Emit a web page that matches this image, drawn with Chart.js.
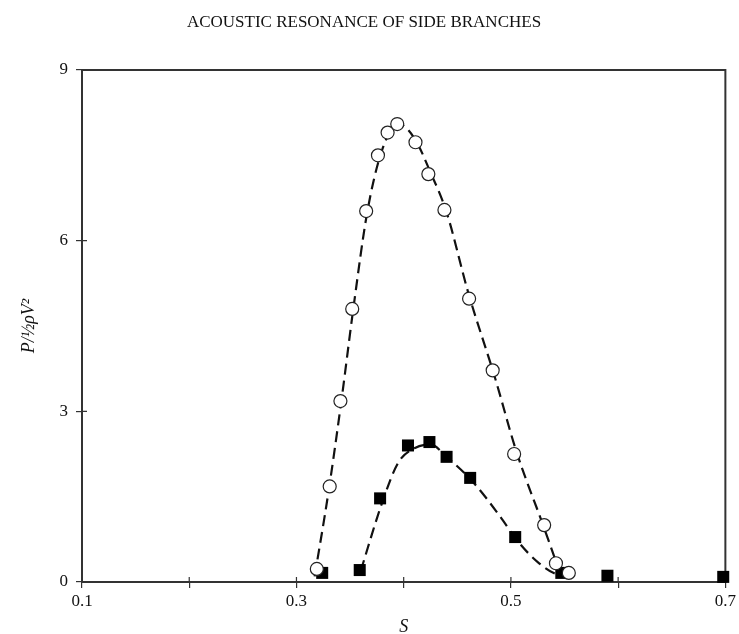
<!DOCTYPE html>
<html>
<head>
<meta charset="utf-8">
<script src="https://cdn.jsdelivr.net/npm/chart.js@4/dist/chart.umd.min.js"></script>
<style>
  html, body { margin: 0; padding: 0; background: #fff; }
  #wrap { width: 739px; height: 634px; }
</style>
</head>
<body>
<div id="wrap"><canvas id="chart" width="739" height="634"></canvas></div>
<script>
// open circles
var circleS = [0.319, 0.331, 0.341, 0.352, 0.365, 0.376, 0.385, 0.394, 0.411, 0.423, 0.438, 0.461, 0.483, 0.503, 0.531, 0.542, 0.554];
var circleP = [0.23, 1.68, 3.18, 4.8, 6.52, 7.5, 7.9, 8.05, 7.73, 7.17, 6.54, 4.98, 3.72, 2.25, 1.0, 0.33, 0.16];

// filled squares
var squareS = [0.324, 0.359, 0.378, 0.404, 0.424, 0.440, 0.462, 0.504, 0.547, 0.590, 0.698];
var squareP = [0.16, 0.21, 1.47, 2.4, 2.46, 2.2, 1.83, 0.79, 0.16, 0.11, 0.09];

// dashed fit curves
var fitCircleS = [0.317, 0.330, 0.342, 0.353, 0.366, 0.380, 0.395, 0.410, 0.425, 0.440, 0.460, 0.485, 0.505, 0.530, 0.546];
var fitCircleP = [0.1, 1.6, 3.2, 4.8, 6.5, 7.6, 8.05, 7.8, 7.2, 6.5, 5.1, 3.6, 2.3, 1.0, 0.15];
var fitSquareS = [0.360, 0.380, 0.395, 0.410, 0.425, 0.440, 0.465, 0.490, 0.505, 0.525, 0.545, 0.556];
var fitSquareP = [0.2, 1.4, 2.1, 2.35, 2.42, 2.2, 1.75, 1.15, 0.75, 0.35, 0.12, 0.1];

var xTicks = [0.1, 0.3, 0.5, 0.7];
var yTicks = [0, 3, 6, 9];

function pts(xs, ys) {
    return xs.map(function (x, i) { return { x: x, y: ys[i] }; });
}

var serif = '"Liberation Serif", "DejaVu Serif", serif';

// box round the plot and ticks that cross the axes
var frame = {
    id: 'frame',
    beforeDatasetsDraw: function (chart) {
        var ctx = chart.ctx, a = chart.chartArea;
        var xs = chart.scales.x, ys = chart.scales.y;
        ctx.save();
        ctx.strokeStyle = '#333';
        ctx.lineWidth = 2;
        ctx.strokeRect(a.left, a.top, a.right - a.left, a.bottom - a.top);
        ctx.lineWidth = 1.2;
        ctx.beginPath();
        xs.ticks.forEach(function (t) {
            var px = xs.getPixelForValue(t.value);
            ctx.moveTo(px, a.bottom - 5);
            ctx.lineTo(px, a.bottom);
        });
        ys.ticks.forEach(function (t) {
            var py = ys.getPixelForValue(t.value);
            ctx.moveTo(a.left, py);
            ctx.lineTo(a.left + 5, py);
        });
        ctx.stroke();
        ctx.restore();
    }
};

var dashed = {
    showLine: true,
    pointRadius: 0,
    borderColor: '#111',
    borderWidth: 2.2,
    borderDash: [11, 6],
    cubicInterpolationMode: 'monotone'
};

var config = {
    type: 'scatter',
    data: {
        datasets: [{
            data: pts(circleS, circleP),
            pointStyle: 'circle',
            pointRadius: 6.5,
            pointBackgroundColor: '#fff',
            pointBorderColor: '#222',
            pointBorderWidth: 1.2,
            clip: false
        }, {
            data: pts(squareS, squareP),
            pointStyle: 'rect',
            pointRadius: 8.5,
            pointBackgroundColor: '#000',
            pointBorderColor: '#000',
            pointBorderWidth: 0,
            clip: false
        }, Object.assign({ data: pts(fitCircleS, fitCircleP) }, dashed),
           Object.assign({ data: pts(fitSquareS, fitSquareP) }, dashed)]
    },
    options: {
        responsive: false,
        animation: false,
        layout: { padding: { right: 11, left: 0, bottom: 0, top: 0 } },
        plugins: {
            legend: { display: false },
            tooltip: { enabled: false },
            title: {
                display: true,
                text: 'ACOUSTIC RESONANCE OF SIDE BRANCHES',
                color: '#111',
                font: { family: serif, size: 17, weight: 'normal', lineHeight: 1.2 },
                padding: { top: 12, bottom: 37.6 }
            }
        },
        scales: {
            x: {
                type: 'linear',
                min: 0.1,
                max: 0.7,
                afterFit: function (s) { s.height = 52; },
                border: { display: true, color: '#333', width: 2 },
                grid: { drawOnChartArea: false, tickLength: 6, color: '#333', lineWidth: 1.2 },
                ticks: {
                    stepSize: 0.1,
                    padding: 3,
                    color: '#111',
                    font: { family: serif, size: 17 },
                    callback: function (v) {
                        var r = Math.round(v * 10) / 10;
                        return xTicks.indexOf(r) >= 0 ? r.toFixed(1) : '';
                    }
                },
                title: {
                    display: true,
                    text: 'S',
                    color: '#111',
                    font: { family: serif, size: 18, style: 'italic', lineHeight: 0.7 },
                    padding: { top: 6, bottom: 0 }
                }
            },
            y: {
                min: 0,
                max: 9,
                afterFit: function (s) { s.width = 82; },
                afterBuildTicks: function (s) {
                    s.ticks = yTicks.map(function (v) { return { value: v }; });
                },
                border: { display: true, color: '#333', width: 2 },
                grid: { drawOnChartArea: false, tickLength: 6, color: '#333', lineWidth: 1.2 },
                ticks: {
                    padding: 8,
                    color: '#111',
                    font: { family: serif, size: 17 }
                },
                title: {
                    display: true,
                    text: 'P/\u00BD\u03C1V\u00B2',
                    color: '#111',
                    font: { family: serif, size: 18, style: 'italic' },
                    padding: { top: 18, bottom: 0 }
                }
            }
        }
    },
    plugins: [frame]
};

window.myChart = new Chart(document.getElementById('chart').getContext('2d'), config);
</script>
</body>
</html>
